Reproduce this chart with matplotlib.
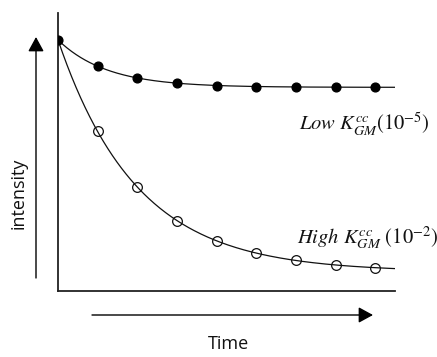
import numpy as np
import matplotlib
matplotlib.use("Agg")
import matplotlib.pyplot as plt

# Data
time_points = [0, 1, 2, 3, 4, 5, 6, 7, 8]
low_k_values = [1.0, 0.896, 0.849, 0.829, 0.817, 0.813, 0.813, 0.813, 0.813]
high_k_values = [1.0, 0.637, 0.414, 0.279, 0.199, 0.151, 0.124, 0.104, 0.092]
low_label = r"$\mathit{Low}\ K_{GM}^{cc}(10^{-5})$"
high_label = r"$\mathit{High}\ K_{GM}^{cc}\ (10^{-2})$"
x_label = "Time"
y_label = "intensity"


def fit_decay(t, y):
    """Least-squares fit of y = a + b*exp(-k t) (grid over k)."""
    t = np.asarray(t, float)
    y = np.asarray(y, float)
    best = None
    for k in np.linspace(0.05, 3.0, 600):
        A = np.column_stack([np.ones_like(t), np.exp(-k * t)])
        coef, *_ = np.linalg.lstsq(A, y, rcond=None)
        err = np.sum((A @ coef - y) ** 2)
        if best is None or err < best[0]:
            best = (err, coef, k)
    _, (a, b), k = best
    return lambda tt: a + b * np.exp(-k * tt)


plt.rcParams["mathtext.fontset"] = "stix"

W, H = 437, 357
fig = plt.figure(figsize=(W / 100, H / 100), dpi=100)
# axes placed so the spines sit where they do in the reference
left, right, top, bottom = 58, 395, 13, 291
ax = fig.add_axes([left / W, 1 - bottom / H, (right - left) / W, (bottom - top) / H])

t_fine = np.linspace(0, 8.55, 300)
f_low = fit_decay(time_points, low_k_values)
f_high = fit_decay(time_points, high_k_values)

ax.plot(t_fine, f_low(t_fine), color="#111111", lw=0.9, zorder=2)
ax.plot(t_fine, f_high(t_fine), color="#111111", lw=0.9, zorder=2)
ax.plot(time_points[1:], high_k_values[1:], linestyle="none", marker="o",
        markersize=7, markerfacecolor="none", markeredgecolor="#111111",
        markeredgewidth=0.9, zorder=3)
ax.plot(time_points, low_k_values, linestyle="none", marker="o",
        markersize=6.3, color="black", zorder=4)

ax.set_xlim(0, 8.5)
ax.set_ylim(0, 1.1076)
ax.set_xticks([])
ax.set_yticks([])
for s in ("top", "right"):
    ax.spines[s].set_visible(False)
for s in ("left", "bottom"):
    ax.spines[s].set_linewidth(1.3)
    ax.spines[s].set_color("#222222")
ax.patch.set_visible(False)

ax.text(6.07, 0.64, low_label, fontsize=14.8, ha="left", va="baseline", color="#111111")
ax.text(6.02, 0.19, high_label, fontsize=14.8, ha="left", va="baseline", color="#111111")

# decorative arrows (figure pixel coords, origin bottom-left)
arrow_kw = dict(arrowstyle="-|>,head_length=0.55,head_width=0.3", lw=1.0,
                color="black", shrinkA=0, shrinkB=0, mutation_scale=16)
ax.annotate("", xy=(36, H - 37), xytext=(36, H - 278), xycoords="figure pixels",
            textcoords="figure pixels", arrowprops=arrow_kw)
ax.annotate("", xy=(373, H - 315), xytext=(92, H - 315), xycoords="figure pixels",
            textcoords="figure pixels", arrowprops=arrow_kw)

fig.text(19 / W, 1 - 193 / H, y_label, rotation=90, ha="center", va="center",
         fontsize=13, family="Open Sans", color="#111111")
fig.text(228 / W, 1 - 344 / H, x_label, ha="center", va="center",
         fontsize=13, family="Open Sans", color="#111111")

fig.savefig("out.png", dpi=100)
